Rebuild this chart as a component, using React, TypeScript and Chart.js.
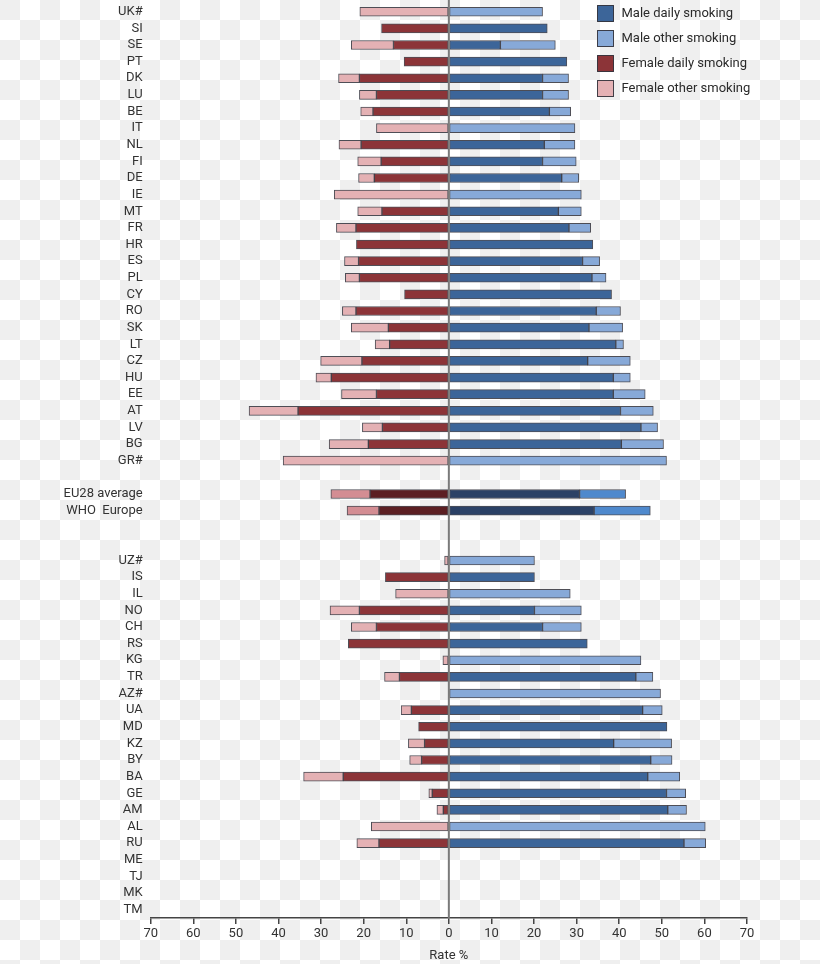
import React, { useEffect, useRef } from "react";
import { Chart, registerables } from "chart.js";

Chart.register(...registerables);

const categories = [
  "UK#", "SI", "SE", "PT", "DK", "LU", "BE", "IT", "NL", "FI", "DE", "IE", "MT", "FR",
  "HR", "ES", "PL", "CY", "RO", "SK", "LT", "CZ", "HU", "EE", "AT", "LV", "BG", "GR#",
  "", "EU28 average", "WHO  Europe", "", "",
  "UZ#", "IS", "IL", "NO", "CH", "RS", "KG", "TR", "AZ#", "UA", "MD", "KZ", "BY", "BA",
  "GE", "AM", "AL", "RU", "ME", "TJ", "MK", "TM",
];

const N = null;

const maleDaily = [
  N, 23.1, 12.1, 27.7, 22.0, 22.0, 23.6, N, 22.4, 22.0, 26.5, N, 25.7, 28.2,
  33.8, 31.4, 33.6, 38.2, 34.6, 32.9, 39.2, 32.6, 38.6, 38.6, 40.3, 45.1, 40.5, N,
  N, 30.7, 34.1, N, N,
  N, 20.1, N, 20.1, 22.0, 32.5, N, 43.9, N, 45.5, 51.2, 38.7, 47.4, 46.7,
  51.1, 51.4, N, 55.2, N, N, N, N,
];

const maleOther = [
  22.0, N, 12.9, N, 6.1, 6.1, 5.0, 29.6, 7.2, 7.9, 4.0, 31.1, 5.4, 5.1,
  N, 4.0, 3.3, N, 5.7, 7.9, 1.8, 10.0, 4.0, 7.5, 7.7, 3.9, 9.9, 51.1,
  N, 10.8, 13.2, N, N,
  20.1, N, 28.5, 11.0, 9.1, N, 45.1, 4.0, 49.7, 4.6, N, 13.6, 5.0, 7.5,
  4.5, 4.4, 60.2, 5.1, N, N, N, N,
];

const femaleDaily = [
  N, 15.8, 13.0, 10.5, 21.0, 17.0, 17.8, N, 20.6, 15.9, 17.5, N, 15.7, 21.8,
  21.7, 21.2, 21.0, 10.4, 21.8, 14.2, 13.9, 20.4, 27.6, 17.0, 35.4, 15.6, 18.9, N,
  N, 18.5, 16.4, N, N,
  N, 14.9, N, 21.0, 17.0, 23.6, N, 11.6, N, 8.8, 7.1, 5.7, 6.4, 24.8,
  3.9, 1.3, N, 16.4, N, N, N, N,
];

const femaleOther = [
  20.9, N, 9.9, N, 4.9, 4.0, 2.9, 17.0, 5.2, 5.5, 3.7, 26.9, 5.7, 4.6,
  N, 3.3, 3.3, N, 3.2, 8.7, 3.4, 9.7, 3.6, 8.2, 11.5, 4.7, 9.2, 38.9,
  N, 9.2, 7.5, N, N,
  1.0, N, 12.5, 6.9, 5.9, N, 1.4, 3.5, N, 2.4, N, 3.8, 2.8, 9.3,
  0.8, 1.5, 18.2, 5.2, N, N, N, N,
];

const seriesNames = ["Male daily smoking", "Male other smoking", "Female daily smoking", "Female other smoking"];
const seriesColors = ["#3c6599", "#87a9d8", "#8c3438", "#e4b1b4"];
const summaryColors = ["#2b4166", "#4f89cd", "#5c1f23", "#d38d93"];
const summaryRows = [29, 30];
const axisTicks = [-70, -60, -50, -40, -30, -20, -10, 0, 10, 20, 30, 40, 50, 60, 70];

const FONT = "Roboto, 'DejaVu Sans', sans-serif";

export default function App() {
  const ref = useRef<HTMLCanvasElement | null>(null);

  useEffect(() => {
    if (!ref.current) return;
    const neg = (a: (number | null)[]) => a.map((v) => (v == null ? null : -v));
    const raw = [maleDaily, maleOther, neg(femaleDaily), neg(femaleOther)];
    const datasets = raw.map((d, i) => ({
      label: seriesNames[i],
      data: d,
      stack: "s",
      backgroundColor: (ctx: any) =>
        summaryRows.includes(ctx.dataIndex) ? summaryColors[i] : seriesColors[i],
      borderColor: "rgba(35,35,45,0.8)",
      borderWidth: 1,
      borderSkipped: false,
      barThickness: 9,
    }));

    const extras = {
      id: "extras",
      afterDatasetsDraw(chart: any) {
        const { ctx, chartArea, scales } = chart;
        const x0 = scales.x.getPixelForValue(0);
        ctx.save();
        ctx.strokeStyle = "#7a7a7a";
        ctx.lineWidth = 2;
        ctx.beginPath();
        ctx.moveTo(x0, 0);
        ctx.lineTo(x0, chartArea.bottom);
        ctx.stroke();
        // legend
        ctx.font = `13px ${FONT}`;
        ctx.textBaseline = "middle";
        ctx.textAlign = "left";
        seriesNames.forEach((name, i) => {
          const y = 5 + i * 25;
          ctx.fillStyle = seriesColors[i];
          ctx.fillRect(597.5, y + 0.5, 16, 16);
          ctx.strokeStyle = "rgba(35,35,45,0.85)";
          ctx.lineWidth = 1;
          ctx.strokeRect(597.5, y + 0.5, 16, 16);
          ctx.fillStyle = "#2a2a2a";
          ctx.fillText(name, 621.5, y + 8.5);
        });
        ctx.restore();
      },
    };

    const chart = new Chart(ref.current, {
      type: "bar",
      data: { labels: categories, datasets },
      options: {
        animation: false,
        responsive: false,
        maintainAspectRatio: false,
        indexAxis: "y",
        layout: { padding: { top: 3.4, right: 73, bottom: 0, left: 0 } },
        plugins: { legend: { display: false }, tooltip: { enabled: false } },
        scales: {
          x: {
            stacked: true,
            min: -70,
            max: 70,
            afterBuildTicks: (scale: any) => {
              scale.ticks = axisTicks.map((v) => ({ value: v }));
            },
            afterFit: (scale: any) => {
              scale.height = 46;
            },
            ticks: {
              callback: (v: any) => String(Math.abs(Number(v))),
              font: { family: FONT, size: 13 },
              color: "#333",
              padding: 2,
              maxRotation: 0,
              autoSkip: false,
            },
            grid: { drawOnChartArea: false, drawTicks: true, tickLength: 6, color: "#444", lineWidth: 1.5 },
            border: { display: true, color: "#444", width: 1.5 },
            title: {
              display: true,
              text: "Rate %",
              font: { family: FONT, size: 13 },
              color: "#333",
              padding: { top: 0, bottom: 0 },
            },
          },
          y: {
            stacked: true,
            afterFit: (scale: any) => {
              scale.width = 150.7;
              scale.paddingTop = 0;
              scale.paddingBottom = 0;
            },
            ticks: {
              font: { family: FONT, size: 13 },
              color: "#333",
              padding: 8,
              autoSkip: false,
            },
            grid: { display: false, drawTicks: false },
            border: { display: false },
          },
        },
      },
      plugins: [extras],
    } as any);
    return () => chart.destroy();
  }, []);

  return (
    <div
      style={{
        position: "absolute",
        left: 0,
        top: 0,
        width: 820,
        height: 964,
        background: "repeating-conic-gradient(#ffffff 0% 25%, #efefef 0% 50%) 0 0 / 40px 40px",
      }}
    >
      <canvas ref={ref} width={820} height={964} style={{ display: "block", width: 820, height: 964 }} />
    </div>
  );
}
